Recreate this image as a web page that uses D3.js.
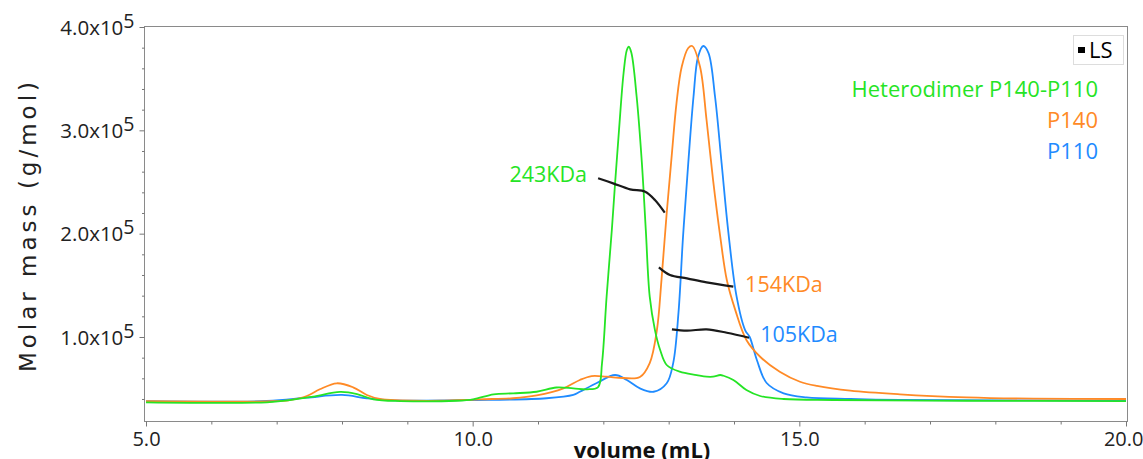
<!DOCTYPE html>
<html>
<head>
<meta charset="utf-8">
<script src="https://cdn.jsdelivr.net/npm/d3@7"></script>
<style>
  body { margin: 0; background: #fff; }
  svg { display: block; }
</style>
</head>
<body>
<div id="chart"></div>
<script>
// [volume (mL), molar mass (g/mol)]
const heterodimer = [
  [5.00, 36800], [6.85, 36800], [7.20, 39000], [7.56, 42200], [7.97, 46800],
  [8.23, 44800], [8.48, 39700], [8.89, 38000], [9.76, 38300], [10.01, 39700],
  [10.32, 44500], [10.62, 45500], [10.98, 47000], [11.28, 51100], [11.54, 50300],
  [11.75, 49400], [11.92, 51600], [11.98, 74800], [12.05, 139000], [12.13, 203500],
  [12.18, 249000], [12.24, 300300], [12.31, 355500], [12.36, 377700], [12.39, 380900],
  [12.43, 374800], [12.51, 332500], [12.59, 268400], [12.65, 203500], [12.71, 139000],
  [12.79, 106700], [12.87, 87400], [12.97, 72900], [13.17, 66400], [13.43, 63200],
  [13.58, 61600], [13.68, 61600], [13.79, 63200], [13.84, 62500], [13.99, 58400],
  [14.19, 48700], [14.40, 42900], [14.76, 40000], [15.52, 39000], [17.56, 38300],
  [20.00, 38000]
];

const p140 = [
  [5.00, 37800], [6.94, 37800], [7.20, 39000], [7.46, 42900], [7.66, 49400],
  [7.92, 55200], [8.17, 51300], [8.38, 43900], [8.58, 40000], [8.89, 38700],
  [9.50, 38300], [10.11, 39700], [10.62, 40700], [10.98, 43400], [11.39, 50300],
  [11.64, 58400], [11.82, 62200], [12.05, 61600], [12.30, 60300], [12.56, 61300],
  [12.71, 74800], [12.82, 106700], [12.89, 155100], [12.97, 220000], [13.05, 278000],
  [13.12, 326400], [13.20, 361500], [13.30, 379700], [13.36, 381600], [13.48, 361500],
  [13.58, 310000], [13.68, 251900], [13.79, 197000], [13.89, 155100], [14.02, 126000],
  [14.19, 97100], [14.40, 80900], [14.70, 66400], [15.01, 56700], [15.27, 52600],
  [15.78, 48000], [16.54, 44500], [17.56, 41600], [18.58, 40300], [20.00, 40000]
];

const p110 = [
  [5.00, 37800], [6.85, 38100], [7.46, 41300], [8.00, 43900], [8.38, 40700],
  [8.79, 38700], [10.01, 39000], [11.13, 40700], [11.54, 43900], [11.64, 47000],
  [11.90, 55500], [12.18, 63200], [12.36, 58400], [12.56, 50300], [12.77, 47000],
  [12.97, 55200], [13.07, 75000], [13.15, 123300], [13.22, 197200], [13.30, 268400],
  [13.38, 332500], [13.45, 371300], [13.53, 381600], [13.61, 374800], [13.71, 332500],
  [13.81, 268400], [13.91, 203500], [14.04, 139000], [14.17, 106700], [14.24, 100000],
  [14.35, 77700], [14.50, 55500], [14.76, 45500], [15.11, 41600], [15.78, 40000],
  [16.54, 39000], [20.00, 38500]
];

// light scattering molar mass across each peak
const lsHeterodimer = [[11.92, 253600], [12.15, 248700], [12.41, 242900], [12.64, 240600], [12.79, 232600], [12.94, 220300]];
const lsP140 = [[12.85, 167400], [13.02, 160000], [13.28, 156800], [13.58, 152900], [13.99, 148700]];
const lsP110 = [[13.05, 107400], [13.28, 106100], [13.58, 107400], [13.89, 104100], [14.23, 99300]];

const xMajor = [5, 10, 15, 20];
const xMinor = [6, 7, 8, 9, 11, 12, 13, 14, 16, 17, 18, 19];
const yMajor = [100000, 200000, 300000, 400000];
const yMinor = [40000, 60000, 80000, 120000, 140000, 160000, 180000, 220000, 240000, 260000, 280000, 320000, 340000, 360000, 380000];

const seriesNames = ["Heterodimer P140-P110", "P140", "P110"];
const seriesColors = ["#25e425", "#ff8a26", "#1f8bff"];
const massLabels = ["243KDa", "154KDa", "105KDa"];

const W = 1143, H = 459;
const m = {left: 144, right: 1127, top: 26, bottom: 421};

const x = d3.scaleLinear().domain([5, 20]).range([146, 1126]);
const y = d3.scaleLinear().domain([18700, 400000]).range([m.bottom, 27]);

const svg = d3.select("#chart").append("svg").attr("width", W).attr("height", H);

// plot frame
svg.append("rect")
  .attr("x", m.left + 0.5).attr("y", m.top + 0.5)
  .attr("width", m.right - m.left).attr("height", m.bottom - m.top)
  .attr("fill", "none").attr("stroke", "#8a8a8a");

const styleAxis = (g) => {
  g.select(".domain").remove();
  g.selectAll(".tick line").attr("stroke", "#777");
  g.selectAll(".tick text")
    .attr("font-family", "'Open Sans', sans-serif")
    .attr("font-size", 20)
    .attr("fill", "#222");
};

svg.append("g").attr("transform", `translate(0,${m.bottom + 0.5})`)
  .call(d3.axisBottom(x).tickValues(xMinor).tickSize(3).tickFormat(""))
  .call(styleAxis);

const xAx = svg.append("g").attr("transform", `translate(0,${m.bottom + 0.5})`)
  .call(d3.axisBottom(x).tickValues(xMajor).tickSize(5).tickPadding(5).tickFormat(d3.format(".1f")))
  .call(styleAxis);
// last label sits against the right edge, as in the source
xAx.selectAll(".tick text").filter((d) => d === 20).attr("text-anchor", "end").attr("x", 17);

svg.append("g").attr("transform", `translate(${m.left + 0.5},0)`)
  .call(d3.axisLeft(y).tickValues(yMinor).tickSize(2.5).tickFormat(""))
  .call(styleAxis);

const yAx = svg.append("g").attr("transform", `translate(${m.left + 0.5},0)`)
  .call(d3.axisLeft(y).tickValues(yMajor).tickSize(5).tickFormat(""))
  .call(styleAxis);

// labels like 4.0x10^5
yAx.selectAll(".tick").append("text")
  .attr("x", -10).attr("dy", "0.35em")
  .attr("text-anchor", "end")
  .attr("font-family", "'Open Sans', sans-serif")
  .attr("font-size", 20.5)
  .attr("fill", "#222")
  .each(function(d) {
    const t = d3.select(this);
    t.append("tspan").text((d / 100000).toFixed(1) + "x10");
    t.append("tspan").attr("dy", -7).attr("font-size", 19.5).text("5");
  });

svg.append("text")
  .attr("transform", "translate(36,225) rotate(-90)")
  .attr("text-anchor", "middle")
  .attr("font-family", "'DejaVu Sans', sans-serif")
  .attr("font-size", 23)
  .attr("letter-spacing", 4)
  .attr("fill", "#222")
  .text("Molar mass (g/mol)");

svg.append("text")
  .attr("x", 642).attr("y", 458)
  .attr("text-anchor", "middle")
  .attr("font-family", "'Open Sans', sans-serif")
  .attr("font-weight", "bold")
  .attr("font-size", 22)
  .attr("fill", "#111")
  .text("volume (mL)");

const line = d3.line()
  .x((d) => x(d[0]))
  .y((d) => y(d[1]))
  .curve(d3.curveCatmullRom.alpha(0.5));

const plot = svg.append("g");

[p110, p140, heterodimer].forEach((s, i) => {
  plot.append("path")
    .datum(s)
    .attr("d", line)
    .attr("fill", "none")
    .attr("stroke", seriesColors[2 - i])
    .attr("stroke-width", 1.8);
});

[lsHeterodimer, lsP140, lsP110].forEach((s) => {
  plot.append("path")
    .datum(s)
    .attr("d", line)
    .attr("fill", "none")
    .attr("stroke", "#1a1a1a")
    .attr("stroke-width", 2.2);
});

// mass annotations
const annot = [
  {pos: [11.75, 250300], anchor: "end"},
  {pos: [14.17, 143800], anchor: "start"},
  {pos: [14.40, 95400], anchor: "start"}
];
annot.forEach((a, i) => {
  svg.append("text")
    .attr("x", x(a.pos[0])).attr("y", y(a.pos[1]))
    .attr("text-anchor", a.anchor)
    .attr("font-family", "'Open Sans', sans-serif")
    .attr("font-size", 21.5)
    .attr("fill", seriesColors[i])
    .text(massLabels[i]);
});

// legend
const leg = svg.append("g");
leg.append("rect")
  .attr("x", 1073.5).attr("y", 35.5).attr("width", 50).attr("height", 29)
  .attr("fill", "#fff").attr("stroke", "#ddd");
leg.append("rect")
  .attr("x", 1078).attr("y", 47).attr("width", 7).attr("height", 6)
  .attr("fill", "#000");
leg.append("text")
  .attr("x", 1089).attr("y", 58)
  .attr("font-family", "'Open Sans', sans-serif")
  .attr("font-size", 22)
  .attr("fill", "#000")
  .text("LS");

seriesNames.forEach((name, i) => {
  leg.append("text")
    .attr("x", 1098).attr("y", 97 + i * 31)
    .attr("text-anchor", "end")
    .attr("font-family", "'Open Sans', sans-serif")
    .attr("font-size", 22)
    .attr("fill", seriesColors[i])
    .text(name);
});
</script>
</body>
</html>
